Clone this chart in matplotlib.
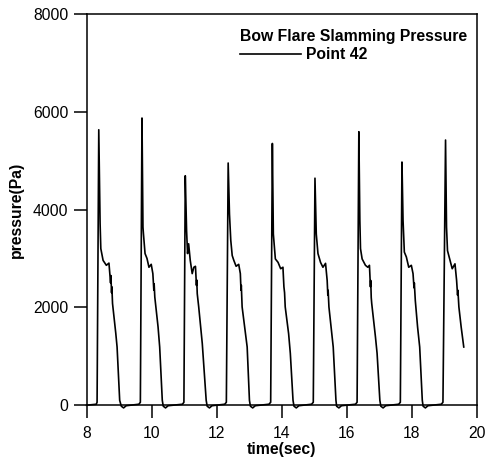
import matplotlib
matplotlib.use("Agg")
import matplotlib.pyplot as plt
import numpy as np

plt.rcParams['font.family'] = ['Liberation Sans', 'DejaVu Sans']

# pressure trace, one list per slamming event
t_p1 = [8.00, 8.30, 8.325, 8.377, 8.418, 8.44, 8.51, 8.61, 8.69, 8.74, 8.75, 8.77, 8.78, 8.80, 8.90, 8.94, 9.02, 9.07, 9.14, 9.22]
p_p1 = [0, 20, 60, 5630, 3710, 3200, 2960, 2860, 2905, 2500, 2650, 2300, 2420, 2080, 1470, 1190, 100, -20, -55, -10]

t_p2 = [9.61, 9.656, 9.706, 9.736, 9.75, 9.80, 9.86, 9.92, 9.99, 10.04, 10.07, 10.08, 10.10, 10.20, 10.25, 10.33, 10.36, 10.43, 10.51]
p_p2 = [20, 60, 5870, 3640, 3510, 3100, 3000, 2820, 2880, 2690, 2350, 2480, 2210, 1600, 1190, 100, -20, -55, -10]

t_p3 = [10.95, 10.995, 11.037, 11.077, 11.107, 11.14, 11.19, 11.25, 11.30, 11.35, 11.38, 11.39, 11.405, 11.45, 11.56, 11.68, 11.71, 11.78, 11.86]
p_p3 = [20, 60, 4690, 3570, 3100, 3300, 2960, 2690, 2820, 2840, 2450, 2560, 2280, 2010, 1260, 100, -20, -55, -10]

t_p4 = [12.25, 12.30, 12.356, 12.396, 12.436, 12.48, 12.53, 12.60, 12.68, 12.73, 12.75, 12.76, 12.785, 12.887, 12.94, 13.01, 13.04, 13.11, 13.19]
p_p4 = [20, 60, 4950, 3910, 3370, 3060, 2960, 2840, 2880, 2690, 2350, 2450, 2010, 1460, 1190, 100, -20, -55, -10]

t_p5 = [13.61, 13.663, 13.715, 13.745, 13.76, 13.807, 13.89, 13.97, 14.04, 14.07, 14.09, 14.11, 14.215, 14.267, 14.35, 14.38, 14.45, 14.53]
p_p5 = [20, 60, 5350, 3500, 3370, 2990, 2920, 2790, 2820, 2420, 2300, 2010, 1460, 1060, 100, -20, -55, -10]

t_p6 = [14.92, 14.973, 15.025, 15.065, 15.117, 15.196, 15.27, 15.35, 15.40, 15.42, 15.43, 15.454, 15.52, 15.586, 15.67, 15.69, 15.76, 15.84]
p_p6 = [20, 60, 4640, 3500, 3100, 2920, 2820, 2900, 2550, 2250, 2350, 2010, 1600, 1190, 100, -20, -55, -10]

t_p7 = [16.27, 16.32, 16.374, 16.405, 16.425, 16.475, 16.577, 16.65, 16.70, 16.73, 16.74, 16.755, 16.77, 16.884, 16.935, 17.02, 17.05, 17.12, 17.20]
p_p7 = [20, 60, 5590, 3780, 3200, 2990, 2860, 2820, 2860, 2420, 2550, 2200, 2080, 1400, 1060, 100, -20, -55, -10]

t_p8 = [17.60, 17.65, 17.70, 17.733, 17.773, 17.835, 17.908, 17.988, 18.04, 18.07, 18.08, 18.11, 18.18, 18.245, 18.325, 18.35, 18.42, 18.50]
p_p8 = [20, 60, 4970, 3780, 3130, 3030, 2820, 2860, 2690, 2400, 2500, 2140, 1600, 1190, 100, -20, -55, -10]

t_p9 = [18.91, 18.96, 19.04, 19.07, 19.10, 19.166, 19.245, 19.33, 19.38, 19.41, 19.42, 19.45, 19.52, 19.60]
p_p9 = [20, 60, 5420, 3640, 3160, 2990, 2790, 2890, 2550, 2250, 2350, 2010, 1600, 1190]

time_sec = np.concatenate([t_p1, t_p2, t_p3, t_p4, t_p5, t_p6, t_p7, t_p8, t_p9])
pressure = np.concatenate([p_p1, p_p2, p_p3, p_p4, p_p5, p_p6, p_p7, p_p8, p_p9])

x_ticks = [8, 10, 12, 14, 16, 18, 20]
y_ticks = [0, 2000, 4000, 6000, 8000]

fig = plt.figure(figsize=(4.86, 4.61), dpi=100)
ax = fig.add_axes([0.178, 0.121, 0.803, 0.849])

ax.plot(time_sec, pressure, '-', color='black', linewidth=1.2, label='Point 42', clip_on=False)

ax.set_xlim(8, 20)
ax.set_ylim(0, 8000)
ax.set_xticks(x_ticks)
ax.set_yticks(y_ticks)
ax.tick_params(axis='both', direction='out', length=9.5, width=1.1, labelsize=11.3)
ax.tick_params(axis='x', pad=5.5)
ax.tick_params(axis='y', pad=3.5)
for s in ax.spines.values():
    s.set_linewidth(1.1)

ax.set_xlabel('time(sec)', fontsize=11.3, fontweight='bold', labelpad=0.5)
ax.set_ylabel('pressure(Pa)', fontsize=11.3, fontweight='bold', labelpad=6.5)

leg = ax.legend(title='Bow Flare Slamming Pressure', loc='upper right', frameon=False,
                bbox_to_anchor=(1.0, 0.985),
                fontsize=11.3, handlelength=3.9, handletextpad=0.3, alignment='left',
                borderaxespad=0.3, borderpad=0.3, labelspacing=0.2)
leg.get_title().set_fontweight('bold')
leg.get_title().set_fontsize(11.3)
for txt in leg.get_texts():
    txt.set_fontweight('bold')

fig.savefig('out.png', dpi=100)
